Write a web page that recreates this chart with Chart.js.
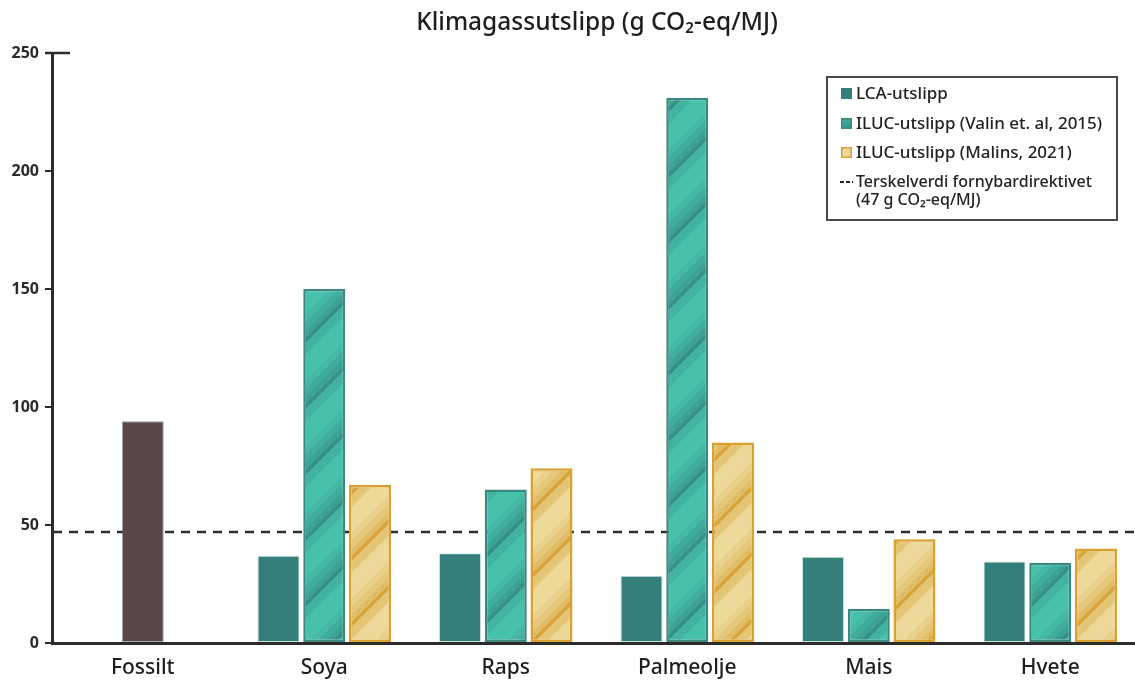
<!DOCTYPE html>
<html><head><meta charset="utf-8">
<script src="https://cdn.jsdelivr.net/npm/chart.js@4.4.0/dist/chart.umd.min.js"></script>
<style>html,body{margin:0;padding:0;background:#fff;overflow:hidden;}#wrap{width:1135px;height:682px;position:relative;overflow:hidden;}</style>
</head><body><div id="wrap"><canvas id="c" width="1141" height="682"></canvas></div>
<script>
const chartTitle = 'Klimagassutslipp (g CO\u2082-eq/MJ)';
const categories = ['Fossilt', 'Soya', 'Raps', 'Palmeolje', 'Mais', 'Hvete'];
const fossilValues = [94, null, null, null, null, null];
const lcaValues = [null, 37, 38, 28.5, 36.5, 34.5];
const valinValues = [null, 150, 65, 231, 14.5, 34];
const malinsValues = [null, 67, 74, 85, 44, 40];
const thresholdValue = 47;
const yTicks = [0, 50, 100, 150, 200, 250];
const seriesLabels = ['LCA-utslipp', 'ILUC-utslipp (Valin et. al, 2015)', 'ILUC-utslipp (Malins, 2021)'];
const thresholdLabel = ['Terskelverdi fornybardirektivet', '(47 g CO\u2082-eq/MJ)'];

const FONT = '"Noto Sans", "Open Sans", sans-serif';

function hex(h){return [parseInt(h.slice(1,3),16),parseInt(h.slice(3,5),16),parseInt(h.slice(5,7),16)];}
function makePattern(bands, period){
  const c = document.createElement('canvas');
  c.width = period; c.height = period;
  const g = c.getContext('2d');
  const img = g.createImageData(period, period);
  for (let y = 0; y < period; y++) for (let x = 0; x < period; x++) {
    const t = (x + y) % period;
    let col = bands[bands.length-1][1];
    for (const b of bands) { if (t < b[0]) { col = b[1]; break; } }
    const rgb = hex(col); const i = (y*period + x)*4;
    img.data[i]=rgb[0]; img.data[i+1]=rgb[1]; img.data[i+2]=rgb[2]; img.data[i+3]=255;
  }
  g.putImageData(img, 0, 0);
  return document.createElement('canvas').getContext('2d').createPattern(c, 'repeat');
}
const valinPattern = makePattern([[26,'#47c1aa'],[34,'#44b8a4'],[42,'#40ad9c'],[49,'#3ca294'],[54,'#379087'],[64,'#42b3a0']], 66);
const malinsPattern = makePattern([[26,'#ecd898'],[34,'#e9d08a'],[42,'#e5c77a'],[49,'#e1bd67'],[54,'#d9a63d'],[66,'#e4c575']], 66);

const extras = {
  id: 'extras',
  beforeDatasetsDraw(chart) {
    const {ctx, chartArea, scales} = chart;
    const y = scales.y.getPixelForValue(thresholdValue);
    ctx.save();
    ctx.strokeStyle = '#2e2e2e'; ctx.lineWidth = 2.5; ctx.setLineDash([9, 7]);
    ctx.beginPath(); ctx.moveTo(chartArea.left + 1, y); ctx.lineTo(chartArea.right, y); ctx.stroke();
    ctx.restore();
  },
  afterDraw(chart) {
    const {ctx, chartArea, scales} = chart;
    ctx.save();
    ctx.fillStyle = '#1e1e1e'; ctx.font = '500 24.5px ' + FONT;
    ctx.textAlign = 'center'; ctx.textBaseline = 'middle';
    ctx.fillText(chartTitle, 597, 23);
    const yTop = scales.y.getPixelForValue(250);
    ctx.strokeStyle = '#2b2b2b'; ctx.lineWidth = 2.5;
    ctx.beginPath(); ctx.moveTo(chartArea.left - 7, yTop); ctx.lineTo(chartArea.left + 18, yTop); ctx.stroke();
    // legend
    ctx.strokeStyle = '#4a4a4a'; ctx.lineWidth = 2;
    ctx.strokeRect(827, 77, 290, 143);
    ctx.textAlign = 'left';
    const rows = [93, 123, 152];
    ctx.fillStyle = '#357f7b'; ctx.fillRect(841, rows[0]-5, 11, 11);
    ctx.fillStyle = valinPattern; ctx.fillRect(841, rows[1]-5, 11, 11);
    ctx.strokeStyle = '#3a8a80'; ctx.lineWidth = 1.5; ctx.strokeRect(841.75, rows[1]-4.25, 9.5, 9.5);
    ctx.fillStyle = '#ecd898'; ctx.fillRect(841, rows[2]-5, 11, 11);
    ctx.strokeStyle = '#daa030'; ctx.strokeRect(841.75, rows[2]-4.25, 9.5, 9.5);
    ctx.fillStyle = '#222';
    ctx.font = '500 17px ' + FONT;
    for (let i = 0; i < 3; i++) ctx.fillText(seriesLabels[i], 856, rows[i] + 1);
    ctx.strokeStyle = '#222'; ctx.lineWidth = 2; ctx.setLineDash([4, 2]);
    ctx.beginPath(); ctx.moveTo(840, 182); ctx.lineTo(853, 182); ctx.stroke();
    ctx.setLineDash([]);
    ctx.font = '500 16px ' + FONT;
    ctx.fillText(thresholdLabel[0], 856, 182);
    ctx.fillText(thresholdLabel[1], 856, 200);
    ctx.restore();
  }
};

const common = {barPercentage: 0.923, categoryPercentage: 0.756, maxBarThickness: 42, borderSkipped: false};
new Chart(document.getElementById('c'), {
  type: 'bar',
  data: {
    labels: categories,
    datasets: [
      Object.assign({label: 'Fossilt', data: fossilValues, backgroundColor: '#5a4748', borderColor: 'rgba(120,100,100,0.6)', borderWidth: 1}, common),
      Object.assign({label: seriesLabels[0], data: lcaValues, backgroundColor: '#357f7b', borderColor: 'rgba(190,220,216,0.9)', borderWidth: 1}, common),
      Object.assign({label: seriesLabels[1], data: valinValues, backgroundColor: valinPattern, borderColor: '#3a8880', borderWidth: 2.5}, common),
      Object.assign({label: seriesLabels[2], data: malinsValues, backgroundColor: malinsPattern, borderColor: '#daa030', borderWidth: 2.5}, common)
    ]
  },
  options: {
    responsive: false, animation: false, devicePixelRatio: 1,
    skipNull: true,
    layout: {padding: {top: 53, right: 0, left: 0, bottom: 0}},
    plugins: {legend: {display: false}, title: {display: false}, tooltip: {enabled: false}},
    scales: {
      x: {
        grid: {display: false, drawTicks: false},
        border: {display: true, color: '#2b2b2b', width: 3},
        ticks: {color: '#1e1e1e', font: {family: FONT, size: 21, weight: 500}, padding: 12},
        afterFit(s) { s.height = 39; }
      },
      y: {
        min: 0, max: 250,
        afterBuildTicks(s) { s.ticks = yTicks.map(v => ({value: v})); },
        grid: {drawOnChartArea: false, drawTicks: true, tickLength: 7, color: '#2b2b2b', lineWidth: 2},
        border: {display: true, color: '#2b2b2b', width: 3},
        ticks: {color: '#2b2b2b', font: {family: FONT, size: 16, weight: 'bold'}, padding: 6},
        afterFit(s) { s.width = 52; }
      }
    }
  },
  plugins: [extras]
});
</script></body></html>
